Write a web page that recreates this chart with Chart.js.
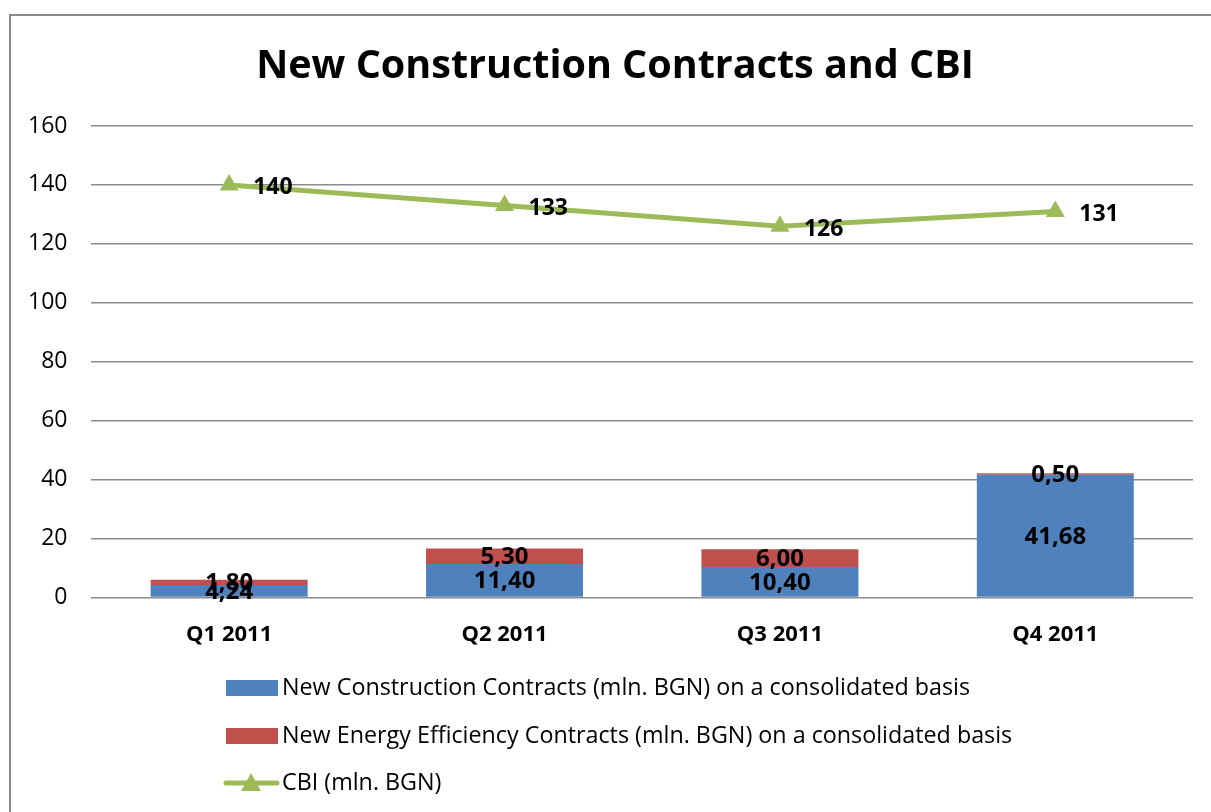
<!DOCTYPE html>
<html>
<head>
<meta charset="utf-8">
<script src="https://cdn.jsdelivr.net/npm/chart.js@4"></script>
<style>
  html, body { margin: 0; padding: 0; background: #fff; overflow: hidden; }
  #frame { position: absolute; left: 9px; top: 14px; width: 1400px; height: 1000px;
           border-left: 2px solid #8a8a8a; border-top: 2px solid #8a8a8a; }
  #wrap { position: absolute; left: 0; top: 0; width: 1211px; height: 812px; }
</style>
</head>
<body>
<div id="frame"></div>
<div id="wrap"><canvas id="chart"></canvas></div>
<script>
const FONT = '"Open Sans", Lato, sans-serif';

const chartTitle = 'New Construction Contracts and CBI';
const quarters = ['Q1 2011', 'Q2 2011', 'Q3 2011', 'Q4 2011'];
const constructionContracts = [4.24, 11.40, 10.40, 41.68];
const energyContracts = [1.80, 5.30, 6.00, 0.50];
const cbiValues = [140, 133, 126, 131];
const yTicks = [0, 20, 40, 60, 80, 100, 120, 140, 160];

const COLORS = { blue: '#4F81BD', red: '#C0504D', green: '#9BBB59', grid: '#8c8c8c' };

function fmtComma(v) {
  return v.toFixed(2).replace('.', ',');
}

/* title centred on the framed chart box rather than the plot */
const boxTitle = {
  id: 'boxTitle',
  afterDraw(chart) {
    const ctx = chart.ctx;
    ctx.save();
    ctx.font = 'bold 39.5px ' + FONT;
    ctx.fillStyle = '#000';
    ctx.textAlign = 'center';
    ctx.textBaseline = 'middle';
    ctx.fillText(chartTitle, 615, 67);
    ctx.restore();
  }
};

/* value labels: centred in bar segments, right of line points */
const valueLabels = {
  id: 'valueLabels',
  afterDatasetsDraw(chart) {
    const ctx = chart.ctx;
    ctx.save();
    ctx.fillStyle = '#000';
    ctx.textBaseline = 'middle';
    chart.data.datasets.forEach((ds, i) => {
      const meta = chart.getDatasetMeta(i);
      meta.data.forEach((el, j) => {
        if (ds.type === 'line') {
          ctx.font = 'bold 23px ' + FONT;
          ctx.textAlign = 'left';
          ctx.fillText(String(ds.data[j]), el.x + 24, el.y + 3);
        } else {
          ctx.font = 'bold 24px ' + FONT;
          ctx.textAlign = 'center';
          ctx.fillText(fmtComma(ds.data[j]), el.x, (el.y + el.base) / 2 + 1);
        }
      });
    });
    ctx.restore();
  }
};

/* stacked legend under the plot, left aligned like the original */
const stackedLegend = {
  id: 'stackedLegend',
  afterDraw(chart) {
    const ctx = chart.ctx;
    const rows = [688, 736, 783];
    ctx.save();
    ctx.font = '23.3px ' + FONT;
    ctx.textAlign = 'left';
    ctx.textBaseline = 'middle';
    chart.data.datasets.forEach((ds) => {
      const y = rows[ds.legendRow];
      if (ds.type === 'line') {
        ctx.strokeStyle = ds.borderColor;
        ctx.lineWidth = 5;
        ctx.lineCap = 'round';
        ctx.beginPath();
        ctx.moveTo(226, y);
        ctx.lineTo(277, y);
        ctx.stroke();
        ctx.fillStyle = ds.borderColor;
        ctx.beginPath();
        ctx.moveTo(251, y - 10);
        ctx.lineTo(261, y + 8);
        ctx.lineTo(241, y + 8);
        ctx.closePath();
        ctx.fill();
      } else {
        ctx.fillStyle = ds.backgroundColor;
        ctx.fillRect(226, y - 8, 52, 16);
      }
      ctx.fillStyle = '#000';
      ctx.fillText(ds.label, 282, y);
    });
    ctx.restore();
  }
};

new Chart(document.getElementById('chart'), {
  data: {
    labels: quarters,
    datasets: [
      {
        type: 'line',
        label: 'CBI (mln. BGN)',
        data: cbiValues,
        borderColor: COLORS.green,
        backgroundColor: COLORS.green,
        borderWidth: 5,
        pointStyle: 'triangle',
        pointRadius: 11,
        pointHoverRadius: 11,
        pointBorderWidth: 0,
        tension: 0,
        order: 0,
        legendRow: 2,
      },
      {
        type: 'bar',
        label: 'New Construction Contracts (mln. BGN) on a consolidated basis',
        data: constructionContracts,
        backgroundColor: COLORS.blue,
        stack: 'contracts',
        categoryPercentage: 1,
        barPercentage: 0.57,
        order: 1,
        legendRow: 0,
      },
      {
        type: 'bar',
        label: 'New Energy Efficiency Contracts (mln. BGN) on a consolidated basis',
        data: energyContracts,
        backgroundColor: COLORS.red,
        stack: 'contracts',
        categoryPercentage: 1,
        barPercentage: 0.57,
        order: 2,
        legendRow: 1,
      },
    ],
  },
  options: {
    responsive: true,
    maintainAspectRatio: false,
    animation: false,
    layout: { padding: { top: 126, left: 4, right: 18, bottom: 148 } },
    plugins: {
      legend: { display: false },
      tooltip: { enabled: false },
      title: { display: false },
    },
    scales: {
      x: {
        stacked: true,
        grid: { display: false },
        border: { display: false },
        ticks: { color: '#000', padding: 16, font: { family: FONT, size: 22, weight: 'bold' } },
      },
      y: {
        stacked: true,
        min: 0,
        max: 160,
        afterBuildTicks(axis) { axis.ticks = yTicks.map(v => ({ value: v })); },
        grid: { color: COLORS.grid, lineWidth: 1.5, drawTicks: false },
        border: { display: false },
        ticks: { color: '#000', padding: 24, font: { family: FONT, size: 23 } },
      },
    },
  },
  plugins: [boxTitle, valueLabels, stackedLegend],
});
</script>
</body>
</html>
